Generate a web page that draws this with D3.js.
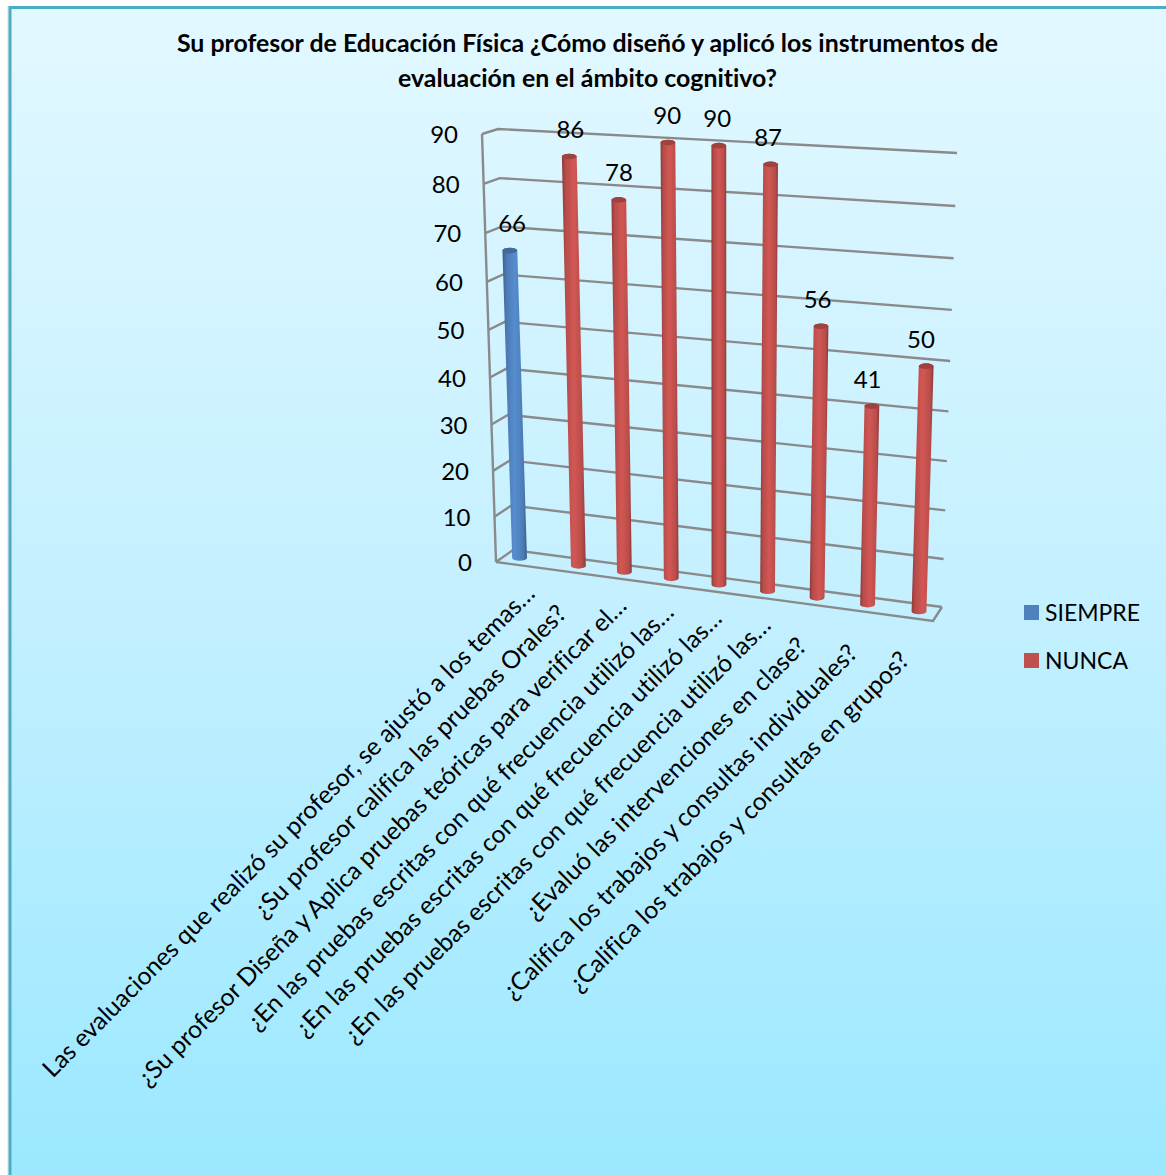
<!DOCTYPE html>
<html>
<head>
<meta charset="utf-8">
<script src="https://cdn.jsdelivr.net/npm/d3@7/dist/d3.min.js"></script>
<style>
html,body{margin:0;padding:0;background:#fff;overflow:hidden}
text{font-family:Lato,"Open Sans",sans-serif;fill:#000;font-variant-ligatures:none}
</style>
</head>
<body>
<svg id="chart" width="1166" height="1175"></svg>
<script>
const titleLines = [
  "Su profesor de Educación Física ¿Cómo diseñó y aplicó los instrumentos de",
  "evaluación en el ámbito cognitivo?"
];
const categories = [
  "Las evaluaciones que realizó su profesor, se ajustó a los temas…",
  "¿Su profesor califica las pruebas Orales?",
  "¿Su profesor Diseña y Aplica pruebas teóricas para verificar el…",
  "¿En las pruebas escritas con qué frecuencia utilizó las…",
  "¿En las pruebas escritas con qué frecuencia utilizó las…",
  "¿En las pruebas escritas con qué frecuencia utilizó las…",
  "¿Evaluó las intervenciones en clase?",
  "¿Califica los trabajos y consultas individuales?",
  "¿Califica los trabajos y consultas en grupos?"
];
const seriesNames = ["SIEMPRE", "NUNCA"];
const siempre = [66, null, null, null, null, null, null, null, null];
const nunca = [null, 86, 78, 90, 90, 87, 56, 41, 50];
const yTicks = [0, 10, 20, 30, 40, 50, 60, 70, 80, 90];
const seriesColors = ["#4F81BD", "#C0504D"];

const svg = d3.select("#chart");
const defs = svg.append("defs");

// Page background panel
const bg = defs.append("linearGradient").attr("id", "panel")
  .attr("x1", 0).attr("y1", 0).attr("x2", 0).attr("y2", 1);
bg.append("stop").attr("offset", 0).attr("stop-color", "#E2F8FF");
bg.append("stop").attr("offset", 0.5).attr("stop-color", "#C4F0FF");
bg.append("stop").attr("offset", 1).attr("stop-color", "#9AE8FF");
svg.append("rect").attr("x", 7).attr("y", 6).attr("width", 1170).attr("height", 1180).attr("fill", "#D8D8D8").attr("opacity", .5);
svg.append("rect").attr("x", 10).attr("y", 7.5).attr("width", 1170).attr("height", 1180)
  .attr("fill", "url(#panel)").attr("stroke", "#4BACC6").attr("stroke-width", 3);

// Corners of the plot box as seen in perspective
const box = {
  floor: { fl: [496, 562], fr: [933, 621], bl: [513, 550], br: [942, 607] },
  top:   { fl: [482, 134], fr: [947, 167], bl: [498, 129], br: [957, 153] }
};
const lerp = (a, b, t) => [a[0] + (b[0] - a[0]) * t, a[1] + (b[1] - a[1]) * t];
const quad = (q, u, w) => lerp(lerp(q.fl, q.fr, u), lerp(q.bl, q.br, u), w);

// Foreshortening along the category and value directions
const foreshorten = (t, c) => t * (1 + c) / (1 + c * t);
const lift = d3.scaleLinear().domain([0, 90]).range([0, 1]);
const project = (u, w, value) => {
  const uu = foreshorten(u, -0.08);
  return lerp(quad(box.floor, uu, w), quad(box.top, uu, w), foreshorten(lift(value), -0.0534));
};

const x = d3.scaleBand().domain(d3.range(categories.length)).range([0, 1]);
const inner = d3.scalePoint().domain(seriesNames).range([x.bandwidth() * 0.34, x.bandwidth() * 0.645]);

// Walls and floor
const lines = svg.append("g").attr("fill", "none").attr("stroke", "#8A8A8A").attr("stroke-width", 2.4);
const poly = pts => lines.append("path").attr("d", d3.line()(pts));
yTicks.forEach(v => poly([project(0, 0, v), project(0, 1, v), project(1, 1, v)]));
poly([project(0, 0, 0), project(0, 0, 90)]);
poly([project(0, 0, 0), project(1, 0, 0), project(1, 1, 0)]);

// Value axis labels
svg.append("g").selectAll("text").data(yTicks).join("text")
  .attr("x", v => project(0, 0, v)[0] - 24)
  .attr("y", v => project(0, 0, v)[1] + 9)
  .attr("text-anchor", "end").attr("font-size", 24)
  .text(d => d);

// Cylinder shading for each series
seriesColors.forEach((c, i) => {
  const col = d3.color(c);
  const g = defs.append("linearGradient").attr("id", "cyl" + i);
  [[0, col.darker(0.9)], [0.16, col.darker(0.15)], [0.5, col.brighter(0.25)], [0.84, col.darker(0.1)], [1, col.darker(0.9)]]
    .forEach(([o, k]) => g.append("stop").attr("offset", o).attr("stop-color", k));
});

// Cylinders, with value labels above them
const rx = 7.4;
const ry = 2.8;
const marks = seriesNames.flatMap((name, s) => [siempre, nunca][s].map((value, k) => ({ name, s, k, value })))
  .filter(d => d.value !== null);
const bars = svg.append("g").selectAll("g").data(marks).join("g");
bars.each(function (d) {
  const u = x(d.k) + inner(d.name);
  const b = project(u, 0.5, 0);
  const t = project(u, 0.5, d.value);
  const sel = d3.select(this);
  sel.append("path")
    .attr("d", `M${t[0] - rx},${t[1]} L${b[0] - rx},${b[1]} A${rx},${ry} 0 0 0 ${b[0] + rx},${b[1]} L${t[0] + rx},${t[1]} A${rx},${ry} 0 0 0 ${t[0] - rx},${t[1]}Z`)
    .attr("fill", `url(#cyl${d.s})`);
  sel.append("ellipse").attr("cx", t[0]).attr("cy", t[1]).attr("rx", rx).attr("ry", ry)
    .attr("fill", d3.color(seriesColors[d.s]).darker(0.55));
  sel.append("text").attr("x", t[0] + 2.5 - 8 * u).attr("y", t[1] - 18.5)
    .attr("text-anchor", "middle").attr("font-size", 24).text(d.value);
});

// Category labels, slanted; shortened ones run closer to the axis
svg.append("g").selectAll("text").data(categories).join("text")
  .attr("text-anchor", "end").attr("font-size", 24.7)
  .attr("transform", (d, k) => {
    const p = project(x(k) + x.bandwidth() / 2, 0, 0);
    const pull = d.endsWith("…") ? 0 : 20;
    return `translate(${p[0] + 18},${p[1] + 30}) rotate(-45) translate(${-pull},0)`;
  })
  .text(d => d);

// Title
svg.append("g").selectAll("text").data(titleLines).join("text")
  .attr("x", 587.5).attr("y", (d, i) => 52 + i * 34.5)
  .attr("text-anchor", "middle").attr("font-size", 24.9).attr("font-weight", 700)
  .text(d => d);

// Legend
const legend = svg.append("g").selectAll("g").data(seriesNames).join("g")
  .attr("transform", (d, i) => `translate(1024,${605 + i * 48})`);
legend.append("rect").attr("width", 15).attr("height", 15).attr("fill", (d, i) => seriesColors[i]);
legend.append("text").attr("x", 21).attr("y", 15.5).attr("font-size", 23).text(d => d);
</script>
</body>
</html>
